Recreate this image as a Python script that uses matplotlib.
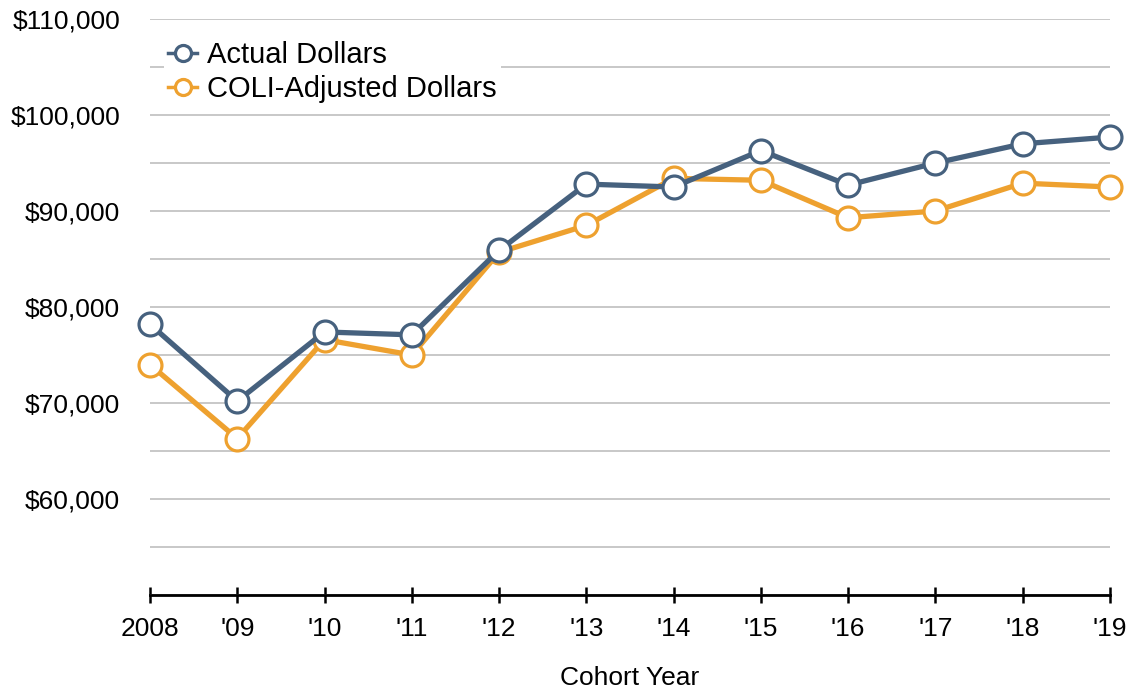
import matplotlib.pyplot as plt
from matplotlib.ticker import MultipleLocator, FuncFormatter

# cohort salary data
years = ['2008', "'09", "'10", "'11", "'12", "'13", "'14", "'15", "'16", "'17", "'18", "'19"]
actual = [78200, 70200, 77400, 77100, 85900, 92800, 92500, 96300, 92700, 95000, 97000, 97700]
coli = [74000, 66300, 76600, 75000, 85700, 88500, 93400, 93200, 89300, 90000, 92900, 92500]

blue = '#46617e'
orange = '#eea12f'

plt.rcParams['font.family'] = ['Liberation Sans', 'DejaVu Sans']

fig = plt.figure(figsize=(11.31, 6.92), dpi=100)
ax = fig.add_axes([150 / 1131, 1 - 595 / 692, 960 / 1131, 576 / 692])

x = list(range(len(years)))
ax.plot(x, actual, color=blue, lw=3.8, marker='o', ms=16.5, mfc='white',
        mec=blue, mew=2.3, clip_on=False, zorder=4, label='Actual Dollars')
ax.plot(x, coli, color=orange, lw=3.8, marker='o', ms=16.5, mfc='white',
        mec=orange, mew=2.3, clip_on=False, zorder=3, label='COLI-Adjusted Dollars')

ax.set_xlim(0, len(years) - 1)
ax.set_ylim(50000, 110000)
ax.yaxis.set_major_locator(MultipleLocator(10000))
ax.yaxis.set_minor_locator(MultipleLocator(5000))
ax.yaxis.set_major_formatter(FuncFormatter(lambda v, p: '' if v == 50000 else f'${v:,.0f}'))
ax.grid(axis='y', which='both', color='#c4c4c4', lw=1.3)
ax.set_axisbelow(True)

ax.set_xticks(x)
ax.set_xticklabels(years)
ax.tick_params(axis='x', direction='inout', length=12, width=1.8, pad=10, labelsize=19)
ax.tick_params(axis='y', which='both', length=0, pad=21.5, labelsize=19)

for s in ['top', 'right', 'left']:
    ax.spines[s].set_visible(False)
ax.spines['bottom'].set_linewidth(2)
ax.spines['bottom'].set_zorder(5)

ax.set_xlabel('Cohort Year', fontsize=19, labelpad=18)

leg = ax.legend(loc='upper left', bbox_to_anchor=(149 / 1131, 1 - 22 / 692),
                bbox_transform=fig.transFigure, fontsize=21, frameon=True,
                handlelength=1.0, handletextpad=0.35, labelspacing=0.2,
                borderpad=0.15, markerscale=0.7)
leg.get_frame().set_facecolor('white')
leg.get_frame().set_edgecolor('none')
leg.get_frame().set_alpha(1)
for h in leg.legend_handles:
    h.set_linewidth(2.5)

fig.savefig('out.png', dpi=100)
